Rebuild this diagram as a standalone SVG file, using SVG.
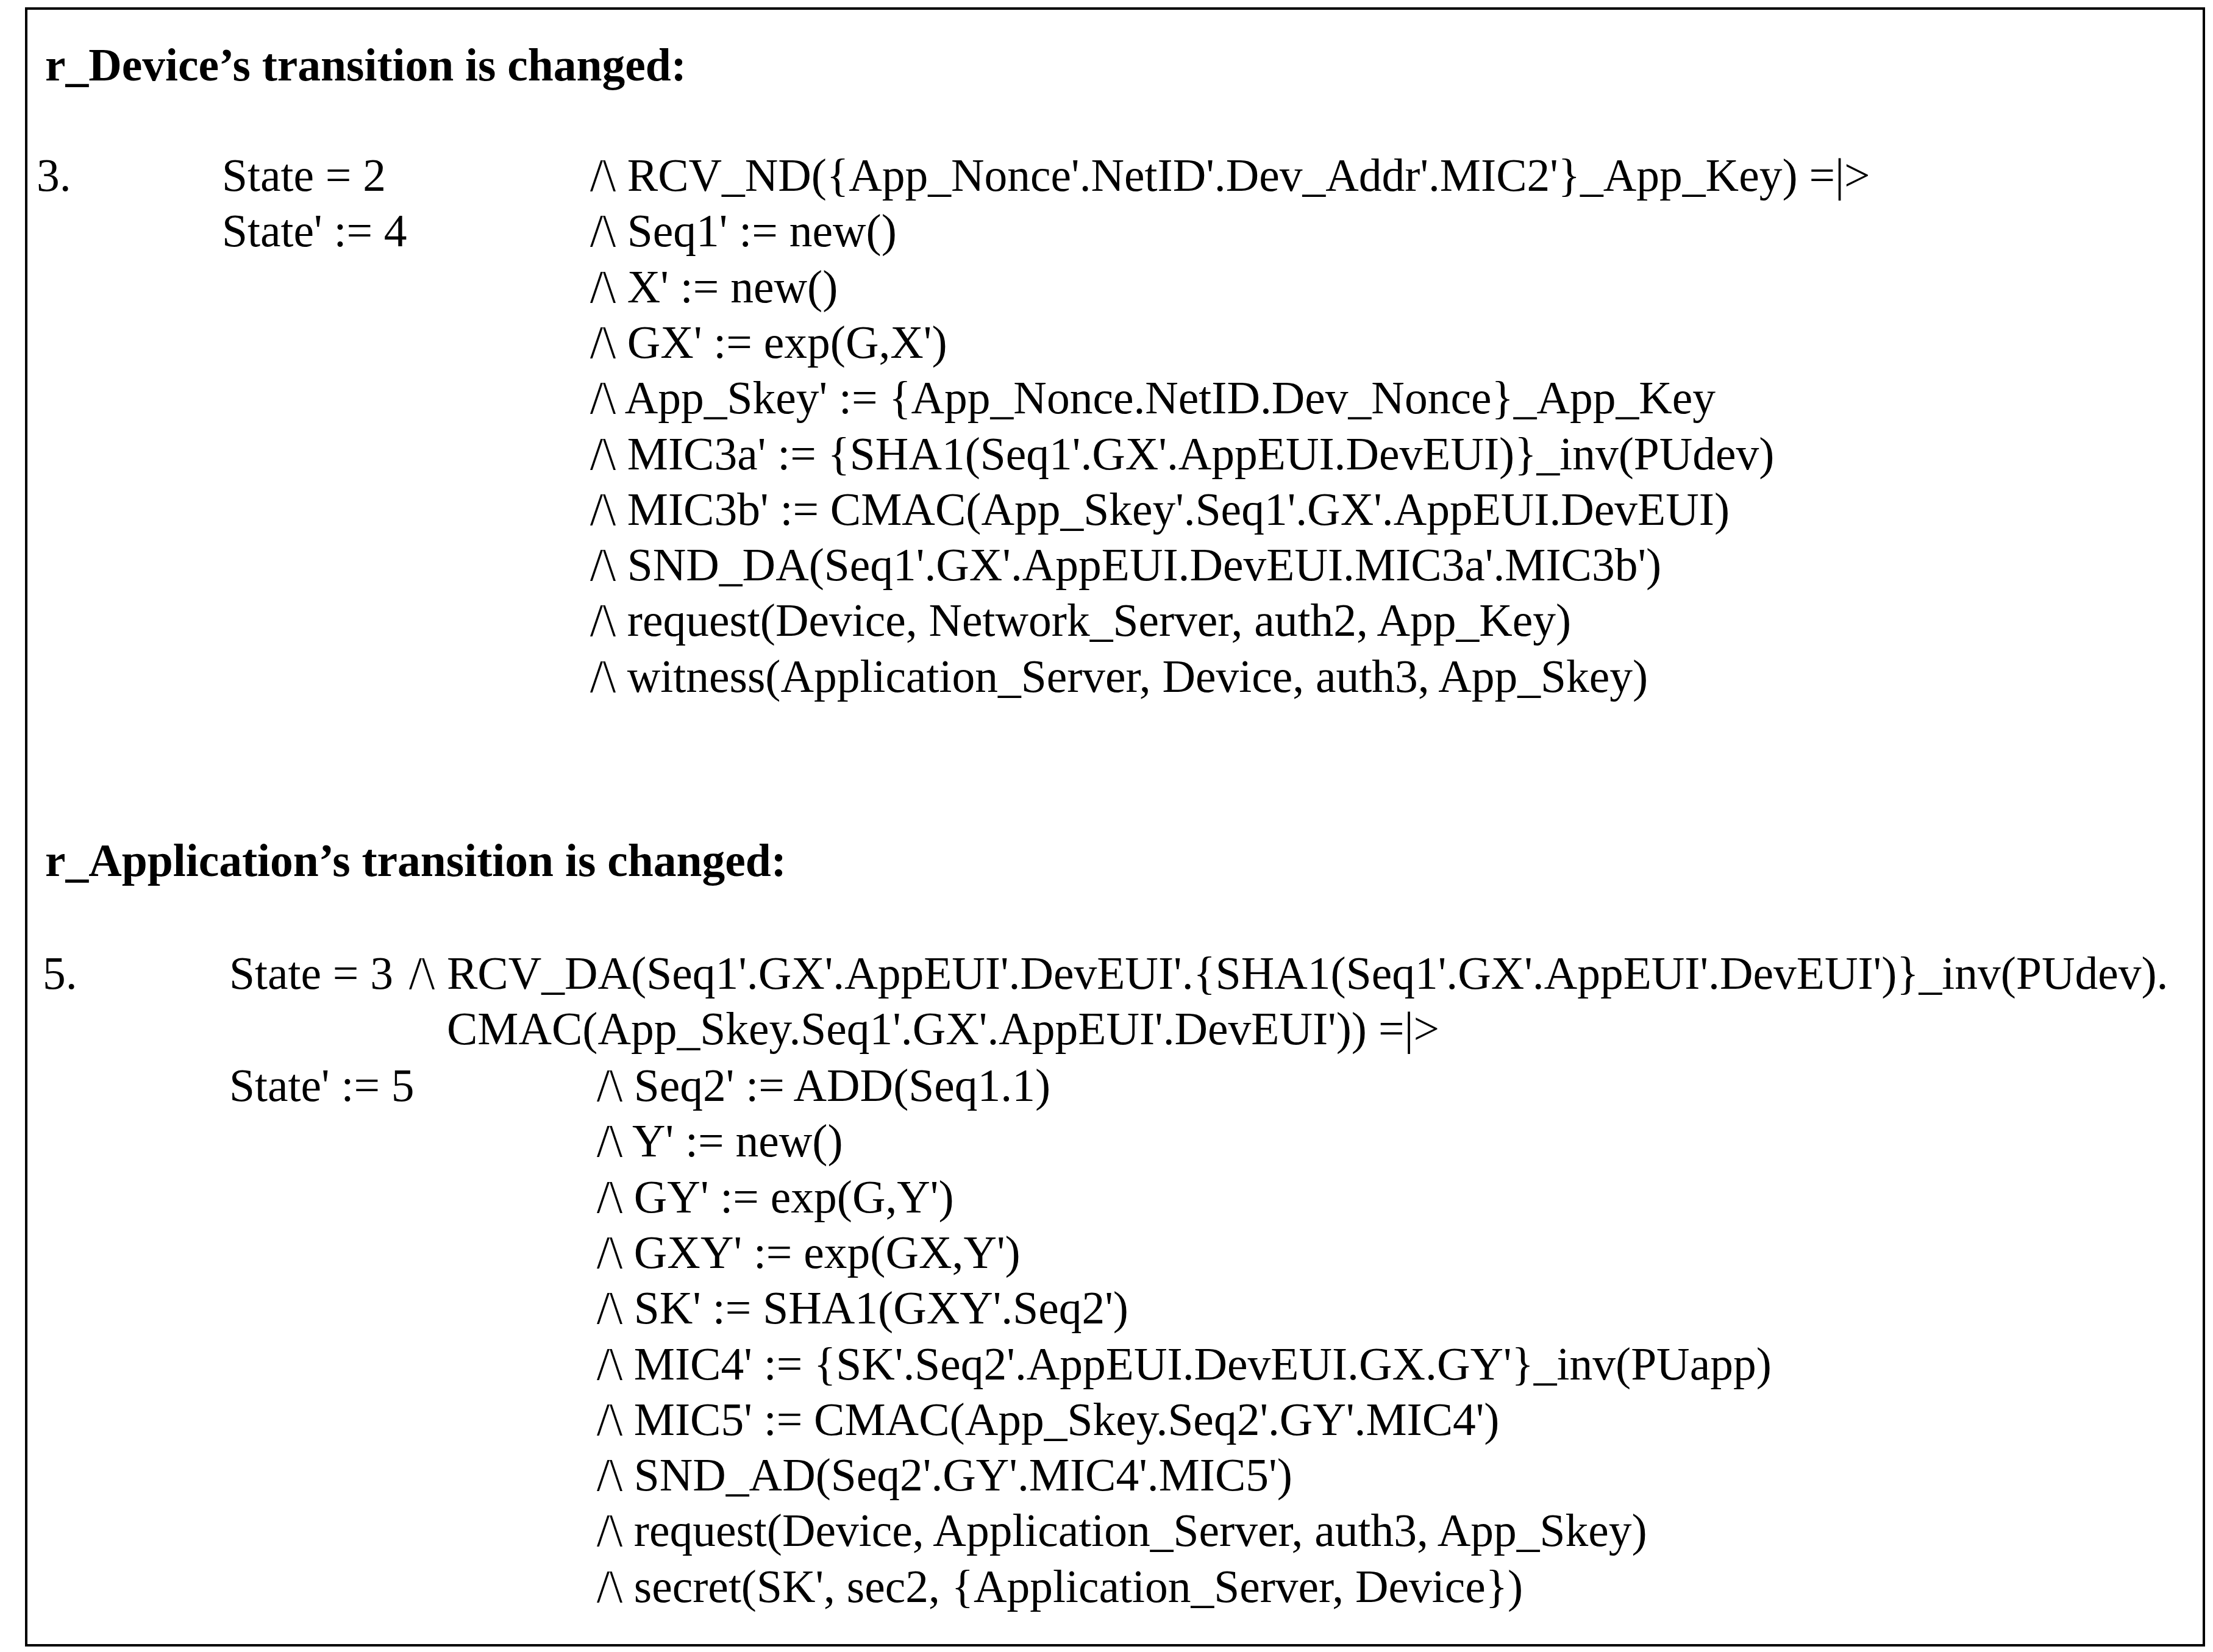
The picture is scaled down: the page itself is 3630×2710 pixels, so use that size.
<svg xmlns="http://www.w3.org/2000/svg" width="3630" height="2710" viewBox="0 0 3630 2710">
<style>
text{font-family:"Liberation Serif","Times New Roman",serif;font-size:75.5px;fill:#000}
.h{font-weight:bold}
</style>
<rect x="0" y="0" width="3630" height="2710" fill="#fff"/>
<rect x="43" y="14" width="3572" height="2685" fill="none" stroke="#000" stroke-width="4"/>
<text class="h" x="74" y="132">r_Device’s transition is changed:</text>
<text x="60" y="313">3.</text>
<text x="364" y="313">State = 2<tspan x="364" dy="91">State' := 4</tspan></text>
<text x="968" y="313">/\ RCV_ND({App_Nonce'.NetID'.Dev_Addr'.MIC2'}_App_Key) =|&gt;<tspan x="968" dy="91.3">/\ Seq1' := new()</tspan><tspan x="968" dy="91.3">/\ X' := new()</tspan><tspan x="968" dy="91.3">/\ GX' := exp(G,X')</tspan><tspan x="968" dy="91.3">/\ App_Skey' := {App_Nonce.NetID.Dev_Nonce}_App_Key</tspan><tspan x="968" dy="91.3">/\ MIC3a' := {SHA1(Seq1'.GX'.AppEUI.DevEUI)}_inv(PUdev)</tspan><tspan x="968" dy="91.3">/\ MIC3b' := CMAC(App_Skey'.Seq1'.GX'.AppEUI.DevEUI)</tspan><tspan x="968" dy="91.3">/\ SND_DA(Seq1'.GX'.AppEUI.DevEUI.MIC3a'.MIC3b')</tspan><tspan x="968" dy="91.3">/\ request(Device, Network_Server, auth2, App_Key)</tspan><tspan x="968" dy="91.3">/\ witness(Application_Server, Device, auth3, App_Skey)</tspan></text>
<text class="h" x="74" y="1437">r_Application’s transition is changed:</text>
<text x="70" y="1622">5.</text>
<text x="376" y="1622">State = 3</text>
<text x="671" y="1622">/\</text>
<text x="733" y="1622">RCV_DA(Seq1'.GX'.AppEUI'.DevEUI'.{SHA1(Seq1'.GX'.AppEUI'.DevEUI')}_inv(PUdev).<tspan x="733" dy="91.3">CMAC(App_Skey.Seq1'.GX'.AppEUI'.DevEUI')) =|&gt;</tspan></text>
<text x="376" y="1806">State' := 5</text>
<text x="979" y="1806">/\ Seq2' := ADD(Seq1.1)<tspan x="979" dy="91.3">/\ Y' := new()</tspan><tspan x="979" dy="91.3">/\ GY' := exp(G,Y')</tspan><tspan x="979" dy="91.3">/\ GXY' := exp(GX,Y')</tspan><tspan x="979" dy="91.3">/\ SK' := SHA1(GXY'.Seq2')</tspan><tspan x="979" dy="91.3">/\ MIC4' := {SK'.Seq2'.AppEUI.DevEUI.GX.GY'}_inv(PUapp)</tspan><tspan x="979" dy="91.3">/\ MIC5' := CMAC(App_Skey.Seq2'.GY'.MIC4')</tspan><tspan x="979" dy="91.3">/\ SND_AD(Seq2'.GY'.MIC4'.MIC5')</tspan><tspan x="979" dy="91.3">/\ request(Device, Application_Server, auth3, App_Skey)</tspan><tspan x="979" dy="91.3">/\ secret(SK', sec2, {Application_Server, Device})</tspan></text>
</svg>
